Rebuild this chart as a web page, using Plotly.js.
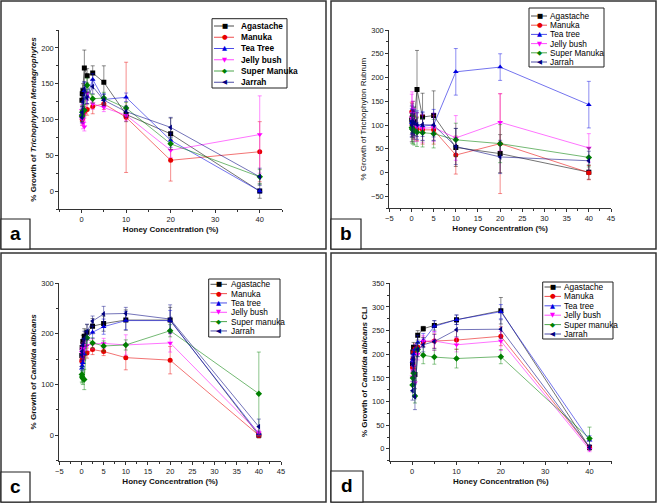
<!DOCTYPE html>
<html>
<head>
<meta charset="utf-8">
<script src="https://cdn.plot.ly/plotly-3.0.1.min.js"></script>
<style>
  html, body { margin: 0; padding: 0; background: #fff; }
  #graph { width: 658px; height: 504px; }
</style>
</head>
<body>
<div id="graph"></div>
<script>
// honey concentration (%), two-fold dilutions
const conc = [0.078, 0.156, 0.3125, 0.625, 1.25, 2.5, 5, 10, 20, 40];

const namesA = ['Agastache', 'Manuka', 'Tea Tree', 'Jelly bush', 'Super Manuka', 'Jarrah'];
const namesB = ['Agastache', 'Manuka', 'Tea tree', 'Jelly bush', 'Super Manuka', 'Jarrah'];
const namesC = ['Agastache', 'Manuka', 'Tea tree', 'Jelly bush', 'Super manuka', 'Jarrah'];
const namesD = ['Agastache', 'Manuka', 'Tea tree', 'Jelly bush', 'Super manuka', 'Jarrah'];

// a - Trichophyton mentagrophytes (% growth, one row per honey)
const growthA = [
    [127, 136, 140, 172, 161, 165, 152, 107, 80, 0],
    [105, 100, 108, 110, 114, 118, 122, 103, 43, 55],
    [108, 104, 112, 140, 132, 156, 128, 131, 71, 0],
    [113, 100, 95, 90, 137, 122, 117, 106, 57, 79],
    [105, 110, 112, 113, 148, 129, 130, 116, 66, 20],
    [103, 110, 125, 143, 130, 146, 127, 111, 89, 20]
];
const errA = [
    [8, 8, 10, 25, 10, 10, 23, 10, 22, 10],
    [8, 8, 8, 8, 8, 10, 8, 77, 29, 42],
    [8, 8, 10, 12, 10, 8, 8, 6, 10, 3],
    [8, 8, 8, 6, 10, 8, 6, 8, 10, 54],
    [8, 8, 8, 8, 10, 6, 8, 8, 8, 10],
    [8, 8, 10, 10, 8, 10, 8, 8, 14, 12]
];

// b - Trichophyton rubrum
const growthB = [
    [110, 115, 120, 108, 175, 117, 120, 53, 40, 1],
    [128, 100, 98, 95, 92, 90, 90, 37, 61, 0],
    [105, 112, 108, 103, 100, 98, 100, 212, 222, 143],
    [115, 125, 110, 100, 96, 93, 95, 73, 106, 52],
    [95, 92, 90, 88, 85, 84, 82, 69, 61, 32],
    [100, 108, 106, 104, 101, 101, 100, 55, 33, 25]
];
const errB = [
    [30, 30, 30, 30, 82, 50, 52, 40, 40, 15],
    [20, 25, 25, 25, 25, 30, 30, 40, 105, 15],
    [30, 30, 30, 30, 30, 30, 33, 49, 28, 49],
    [50, 45, 40, 35, 30, 30, 30, 47, 60, 30],
    [30, 30, 30, 30, 30, 30, 30, 35, 40, 20],
    [25, 25, 25, 25, 25, 25, 25, 38, 35, 20]
];

// c - Candida albicans
const growthC = [
    [157, 173, 185, 195, 203, 215, 220, 227, 227, 0],
    [146, 150, 155, 160, 162, 169, 165, 153, 148, 0],
    [132, 137, 143, 160, 192, 203, 214, 226, 226, 3],
    [163, 168, 172, 176, 177, 180, 181, 178, 182, 5],
    [120, 115, 112, 110, 192, 182, 176, 178, 206, 82],
    [158, 165, 178, 190, 204, 225, 239, 240, 229, 17]
];
const errC = [
    [10, 10, 12, 15, 15, 15, 15, 20, 25, 5],
    [10, 10, 10, 10, 10, 10, 8, 24, 27, 5],
    [10, 10, 10, 12, 15, 12, 15, 18, 20, 5],
    [10, 10, 10, 10, 10, 10, 10, 20, 18, 5],
    [15, 12, 12, 20, 15, 10, 10, 10, 12, 82],
    [10, 12, 12, 15, 15, 10, 15, 12, 28, 15]
];

// d - Candida albicans CLI
const growthD = [
    [180, 205, 215, 157, 240, 254, 261, 273, 292, 3],
    [172, 190, 205, 210, 215, 226, 228, 230, 238, 3],
    [185, 190, 200, 210, 225, 229, 259, 273, 290, 18],
    [152, 165, 175, 140, 200, 228, 228, 220, 228, -1],
    [135, 150, 160, 112, 210, 198, 194, 191, 195, 22],
    [123, 178, 190, 110, 210, 220, 227, 252, 253, 3]
];
const errD = [
    [10, 10, 10, 12, 10, 5, 10, 10, 28, 5],
    [10, 10, 10, 12, 10, 10, 15, 20, 20, 5],
    [10, 10, 10, 10, 15, 15, 12, 10, 15, 10],
    [10, 10, 10, 12, 12, 12, 20, 15, 20, 5],
    [15, 15, 15, 15, 15, 18, 15, 20, 15, 24],
    [20, 15, 15, 27, 15, 15, 15, 15, 20, 5]
];

const colors = ['#000000', '#e80000', '#0000e0', '#ff00ff', '#008000', '#000080'];
const symbols = ['square', 'circle', 'triangle-up', 'triangle-down', 'diamond', 'triangle-left'];
const glyphs = ['\u25A0', '\u25CF', '\u25B2', '\u25BC', '\u25C6', '\u25C0'];

const W = 658, H = 504;
const FONT = 'Arial, "Liberation Sans", sans-serif';
const px = x => x / W;
const py = y => 1 - y / H;

function fade(hex, a) {
    const n = parseInt(hex.slice(1), 16);
    return `rgba(${n >> 16},${(n >> 8) & 255},${n & 255},${a})`;
}

// plot areas in pixels
const panels = [
    {box: {l: 59.3, r: 282, t: 30, b: 209}, xd: 10, xm: 5, yr: [-25, 225], yd: 50, ym: 25,
     ytitle: '<b>% Growth of <i>Trichophyton Mentagrophytes</i></b>', vals: growthA, errs: errA, names: namesA},
    {box: {l: 389.3, r: 611, t: 30, b: 208.3}, xd: 5, xm: 2.5, yr: [-75, 300], yd: 50, ym: 25,
     ytitle: '% Growth of Trichophyton Rubrum', vals: growthB, errs: errB, names: namesB},
    {box: {l: 59.3, r: 281, t: 283, b: 460.7}, xd: 5, xm: 2.5, yr: [-50, 300], yd: 100, ym: 50,
     ytitle: '<b>% Growth of <i>Candida albicans</i></b>', vals: growthC, errs: errC, names: namesC},
    {box: {l: 390, r: 611.7, t: 283.3, b: 460.7}, xd: 10, xm: 5, yr: [-25, 350], yd: 50, ym: 25,
     ytitle: '<b>% Growth of <i>Candida albicans</i> CLI</b>', vals: growthD, errs: errD, names: namesD}
];

const legends = [
    {box: [212, 18.7, 287, 88], y0: 26, dy: 11.25, line: [214, 234], mx: 224.5, tx: 239, bold: true},
    {box: [529, 8, 604, 67], y0: 16, dy: 9.2, line: [531, 547], mx: 539.5, tx: 547.5, bold: false},
    {box: [208.7, 279, 280, 337], y0: 284.3, dy: 9.33, line: [210.5, 227], mx: 218.5, tx: 228.7, bold: false},
    {box: [542.7, 282, 613, 339], y0: 287, dy: 9.4, line: [544.5, 561], mx: 552.5, tx: 562, bold: false}
];

const frames = [[1, 1, 326, 249], [331, 1, 656, 249], [1, 253, 326, 502], [331, 253, 656, 502]];
const labelBoxes = [[1, 219, 30, 249], [331, 219, 361, 249], [1, 472, 30, 502], [331, 471, 363, 502]];
const labels = ['a', 'b', 'c', 'd'];

const data = [];
const layout = {
    width: W, height: H,
    margin: {l: 0, r: 0, t: 0, b: 0},
    paper_bgcolor: '#fff', plot_bgcolor: 'rgba(0,0,0,0)',
    font: {family: FONT, color: '#111'},
    showlegend: false,
    shapes: [], annotations: []
};

panels.forEach((p, k) => {
    const n = k === 0 ? '' : String(k + 1);
    p.vals.forEach((v, i) => {
        data.push({
            x: conc, y: v, type: 'scatter', mode: 'lines+markers', name: p.names[i],
            xaxis: 'x' + n, yaxis: 'y' + n,
            line: {color: fade(colors[i], 0.55), width: 1},
            marker: {color: colors[i], symbol: symbols[i], size: 5},
            error_y: {type: 'data', array: p.errs[i], visible: true,
                      color: fade(colors[i], 0.45), thickness: 1, width: 2},
            hoverinfo: 'none'
        });
    });

    const common = {
        ticks: 'outside', ticklen: 3, tickwidth: 1, tickcolor: '#333',
        showline: true, linecolor: '#333', linewidth: 1,
        showgrid: false, zeroline: false, fixedrange: true,
        tickfont: {size: 7.5, color: '#222', family: FONT}
    };
    layout['xaxis' + n] = Object.assign({}, common, {
        domain: [px(p.box.l), px(p.box.r)], anchor: 'y' + n,
        range: [-5, 45], tick0: 0, dtick: p.xd,
        minor: {ticks: 'outside', ticklen: 2, dtick: p.xm, tickcolor: '#333'},
        title: {text: '<b>Honey Concentration (%)</b>', font: {size: 8, family: FONT, color: '#111'}, standoff: 3}
    });
    layout['yaxis' + n] = Object.assign({}, common, {
        domain: [py(p.box.b), py(p.box.t)], anchor: 'x' + n,
        range: p.yr, tick0: 0, dtick: p.yd,
        minor: {ticks: 'outside', ticklen: 2, dtick: p.ym, tickcolor: '#333'},
        title: {text: p.ytitle, font: {size: 8, family: FONT, color: '#111'}, standoff: 3}
    });

    // panel frame and letter box
    const f = frames[k];
    layout.shapes.push({type: 'rect', xref: 'paper', yref: 'paper',
        x0: px(f[0]), x1: px(f[2]), y0: py(f[3]), y1: py(f[1]),
        line: {color: '#333', width: 1.5}});
    const lb = labelBoxes[k];
    layout.shapes.push({type: 'rect', xref: 'paper', yref: 'paper',
        x0: px(lb[0]), x1: px(lb[2]), y0: py(lb[3]), y1: py(lb[1]),
        line: {color: '#222', width: 1.2}, fillcolor: '#fff'});
    layout.annotations.push({xref: 'paper', yref: 'paper', showarrow: false,
        x: px((lb[0] + lb[2]) / 2), y: py((lb[1] + lb[3]) / 2 - 1),
        xanchor: 'center', yanchor: 'middle',
        text: '<b>' + labels[k] + '</b>', font: {size: 19, family: FONT, color: '#000'}});

    // legend
    const lg = legends[k];
    layout.shapes.push({type: 'rect', xref: 'paper', yref: 'paper',
        x0: px(lg.box[0]), x1: px(lg.box[2]), y0: py(lg.box[3]), y1: py(lg.box[1]),
        line: {color: '#222', width: 1}, fillcolor: '#fff'});
    p.names.forEach((name, i) => {
        const y = lg.y0 + i * lg.dy;
        layout.shapes.push({type: 'line', xref: 'paper', yref: 'paper',
            x0: px(lg.line[0]), x1: px(lg.line[1]), y0: py(y), y1: py(y),
            line: {color: fade(colors[i], 0.7), width: 1}});
        layout.annotations.push({xref: 'paper', yref: 'paper', showarrow: false,
            x: px(lg.mx), y: py(y), xanchor: 'center', yanchor: 'middle',
            text: glyphs[i], font: {size: 6.5, family: 'DejaVu Sans', color: colors[i]}});
        layout.annotations.push({xref: 'paper', yref: 'paper', showarrow: false,
            x: px(lg.tx), y: py(y), xanchor: 'left', yanchor: 'middle',
            text: lg.bold ? '<b>' + name + '</b>' : name,
            font: {size: 8.3, family: FONT, color: '#000'}});
    });
});

Plotly.newPlot('graph', data, layout, {displayModeBar: false, staticPlot: true});
</script>
</body>
</html>
